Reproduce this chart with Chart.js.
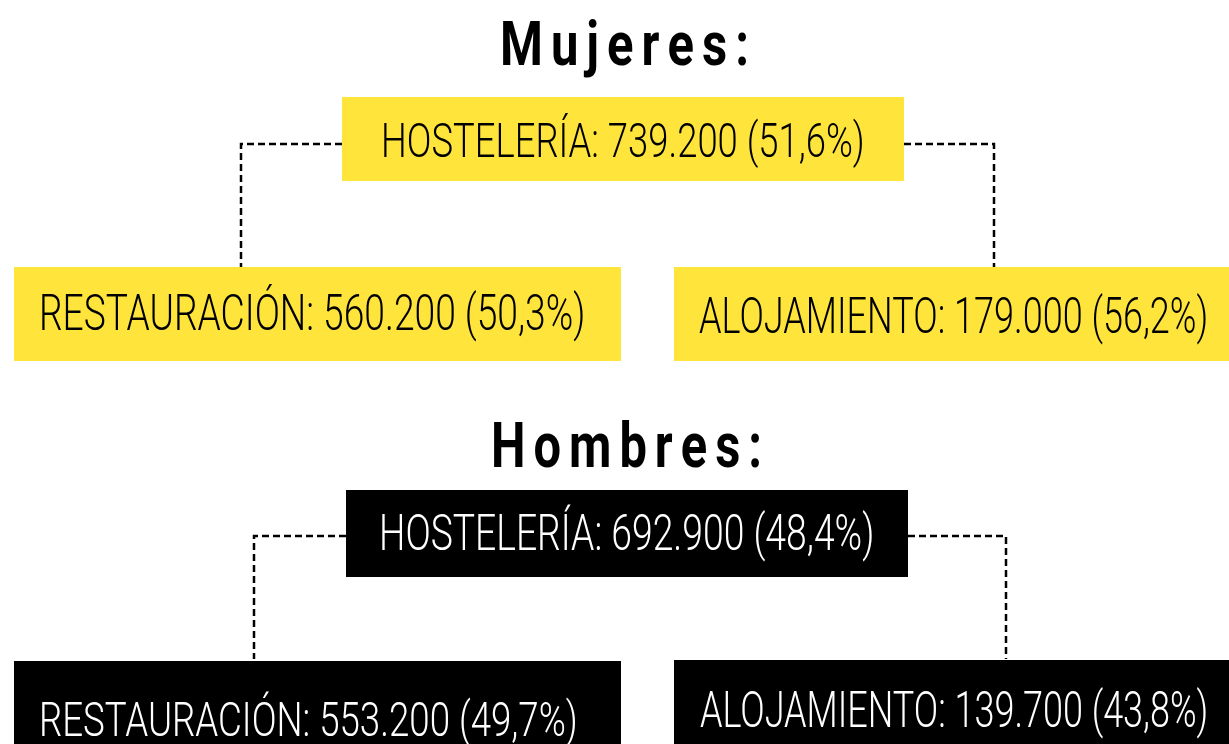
<!DOCTYPE html>
<html><head><meta charset="utf-8">
<script src="https://cdn.jsdelivr.net/npm/chart.js@4.4.1/dist/chart.umd.min.js"></script>
<style>html,body{margin:0;padding:0;background:#fff;overflow:hidden}#wrap{width:1229px;height:744px;position:relative}canvas{display:block}</style>
</head><body><div id="wrap"><canvas id="c" width="1229" height="744"></canvas></div>
<script>
// ---- data ----
const groupTitles = ['Mujeres:', 'Hombres:'];
const categories = ['HOSTELERÍA', 'RESTAURACIÓN', 'ALOJAMIENTO'];
const mujeresValues = [739200, 560200, 179000];
const mujeresPercent = [51.6, 50.3, 56.2];
const hombresValues = [692900, 553200, 139700];
const hombresPercent = [48.4, 49.7, 43.8];

// ---- layout / style (scale units == canvas px) ----
const groupStyle = [{fill:'#FFE53B', text:'#000000'}, {fill:'#000000', text:'#FFFFFF'}];
const titleLayout = [{x0:500, x1:749, baseline:65, cap:43}, {x0:491, x1:762, baseline:467, cap:45}];
const boxLayout = [
  [ {x0:342,x1:904,y0:97,y1:181, tx0:384,tx1:862, base:157, cap:34},
    {x0:14,x1:621,y0:267,y1:361, tx0:42,tx1:583, base:330, cap:35},
    {x0:674,x1:1231,y0:267,y1:361, tx0:699,tx1:1206, base:333, cap:35} ],
  [ {x0:346,x1:908,y0:490,y1:577, tx0:382,tx1:872, base:550, cap:35},
    {x0:14,x1:621,y0:661,y1:777, tx0:42,tx1:575, base:736, cap:34},
    {x0:674,x1:1231,y0:660,y1:760, tx0:700,tx1:1206, base:727, cap:35} ]
];
const connectorLayout = [{y:144, xl:241, xr:994, bottom:267}, {y:536, xl:254, xr:1006, bottom:659}];

const LABEL_FONT = 'Roboto, "Liberation Sans", sans-serif';
const TITLE_FONT = 'Roboto, "Liberation Sans", sans-serif';

function fmtThousands(v){ return String(v).replace(/\B(?=(\d{3})+(?!\d))/g, '.'); }
function fmtPct(p){ return p.toFixed(1).replace('.', ',') + '%'; }
const seriesValues = [mujeresValues, hombresValues];
const seriesPercent = [mujeresPercent, hombresPercent];

function fitText(ctx, text, x0, x1, baseline, font, color){
  ctx.font = font;
  const m = ctx.measureText(text);
  const ink = m.actualBoundingBoxLeft + m.actualBoundingBoxRight;
  const s = (x1 - x0) / ink;
  ctx.save();
  ctx.fillStyle = color;
  ctx.textBaseline = 'alphabetic';
  ctx.textAlign = 'left';
  ctx.translate(x0 + m.actualBoundingBoxLeft * s, baseline);
  ctx.scale(s, 1);
  ctx.fillText(text, 0, 0);
  ctx.restore();
}
function spacedText(ctx, text, x0, x1, baseline, font, spacing, color){
  ctx.font = font;
  const chars = [...text];
  const ws = chars.map(c => ctx.measureText(c).width);
  const sum = ws.reduce((a,b)=>a+b, 0);
  const s = ((x1 - x0) - spacing*(chars.length-1)) / sum;
  let x = x0;
  ctx.fillStyle = color; ctx.textBaseline = 'alphabetic'; ctx.textAlign = 'left';
  chars.forEach((c,i) => {
    ctx.save(); ctx.translate(x, baseline); ctx.scale(s, 1); ctx.fillText(c, 0, 0); ctx.restore();
    x += ws[i]*s + spacing;
  });
}

const treePlugin = {
  id: 'tree',
  afterDraw(chart){
    const ctx = chart.ctx;
    const xs = chart.scales.x, ys = chart.scales.y;
    const X = v => xs.getPixelForValue(v), Y = v => ys.getPixelForValue(v);
    groupTitles.forEach((title, g) => {
      const tl = titleLayout[g];
      const size = tl.cap / 0.711;
      spacedText(ctx, title, X(tl.x0), X(tl.x1), Y(tl.baseline), '700 ' + size + 'px ' + TITLE_FONT, 8, '#000');
      // connectors
      const c = connectorLayout[g];
      const parent = boxLayout[g][0];
      ctx.save();
      ctx.strokeStyle = '#000'; ctx.lineWidth = 2.5; ctx.setLineDash([7, 4]);
      ctx.beginPath();
      ctx.moveTo(X(parent.x0), Y(c.y)); ctx.lineTo(X(c.xl), Y(c.y)); ctx.lineTo(X(c.xl), Y(c.bottom));
      ctx.moveTo(X(parent.x1), Y(c.y)); ctx.lineTo(X(c.xr), Y(c.y)); ctx.lineTo(X(c.xr), Y(c.bottom));
      ctx.stroke();
      ctx.restore();
      categories.forEach((cat, i) => {
        const b = boxLayout[g][i];
        ctx.fillStyle = groupStyle[g].fill;
        ctx.fillRect(X(b.x0), Y(b.y0), X(b.x1) - X(b.x0), Y(b.y1) - Y(b.y0));
        const label = cat + ': ' + fmtThousands(seriesValues[g][i]) + ' (' + fmtPct(seriesPercent[g][i]) + ')';
        const size = b.cap / 0.711;
        fitText(ctx, label, X(b.tx0), X(b.tx1), Y(b.base), '300 ' + size + 'px ' + LABEL_FONT, groupStyle[g].text);
      });
    });
  }
};

new Chart(document.getElementById('c'), {
  type: 'scatter',
  data: { datasets: [{ data: [], pointRadius: 0 }] },
  options: {
    responsive: false, animation: false, devicePixelRatio: 1,
    layout: { padding: 0 },
    plugins: { legend: { display: false }, tooltip: { enabled: false } },
    scales: {
      x: { type: 'linear', min: 0, max: 1229, display: false },
      y: { type: 'linear', min: 0, max: 744, reverse: true, display: false }
    }
  },
  plugins: [treePlugin]
});
</script>
</body></html>
